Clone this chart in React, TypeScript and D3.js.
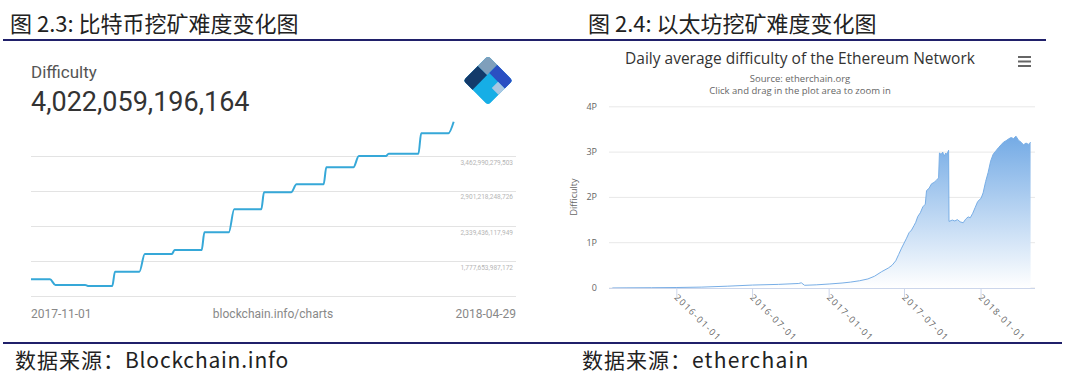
import React from "react";
import * as d3 from "d3";

// ---------- Bitcoin (left) ----------
const btcDates = [
  "2017-11-01", "2017-11-08", "2017-11-10", "2017-11-21", "2017-11-22",
  "2017-12-01", "2017-12-02", "2017-12-11", "2017-12-13", "2017-12-23",
  "2017-12-24", "2018-01-03", "2018-01-04", "2018-01-13", "2018-01-15",
  "2018-01-25", "2018-01-26", "2018-02-05", "2018-02-07", "2018-02-17",
  "2018-02-18", "2018-02-28", "2018-03-02", "2018-03-12", "2018-03-13",
  "2018-03-24", "2018-03-25", "2018-04-04", "2018-04-06",
];
// difficulty in trillions
const btcValues = [
  1.492, 1.492, 1.401, 1.401, 1.385,
  1.385, 1.614, 1.614, 1.898, 1.898,
  1.962, 1.962, 2.246, 2.246, 2.616,
  2.616, 2.888, 2.888, 3.017, 3.017,
  3.29, 3.29, 3.471, 3.471, 3.508,
  3.508, 3.835, 3.835, 4.022,
];
const btcGridValues = [1.21589, 1.77765, 2.33944, 2.90122, 3.46299];
const btcGridLabels = ["", "1,777,653,987,172", "2,339,436,117,949", "2,901,218,248,726", "3,462,990,279,503"];
const btcAxisStart = "2017-11-01";
const btcAxisEnd = "2018-04-29";
const btcSourceLabel = "blockchain.info/charts";
const btcHeaderLabel = "Difficulty";
const btcHeaderValue = "4,022,059,196,164";

// ---------- Ethereum (right) ----------
const ethDates = [
  "2015-07-30", "2015-09-01", "2015-11-01", "2016-01-01", "2016-03-01",
  "2016-05-01", "2016-07-01", "2016-09-01", "2016-10-20", "2016-10-26",
  "2016-11-03", "2016-12-01", "2017-01-01", "2017-02-01", "2017-02-21",
  "2017-03-15", "2017-04-04", "2017-04-20", "2017-05-07", "2017-05-23",
  "2017-06-01", "2017-06-10", "2017-06-17", "2017-06-24", "2017-06-30",
  "2017-07-06", "2017-07-12", "2017-07-18", "2017-07-24", "2017-07-28",
  "2017-08-02", "2017-08-08", "2017-08-14", "2017-08-20", "2017-08-23",
  "2017-08-29", "2017-09-04", "2017-09-10", "2017-09-16", "2017-09-21",
  "2017-09-23", "2017-09-27", "2017-10-01", "2017-10-04", "2017-10-08",
  "2017-10-11", "2017-10-15", "2017-10-16", "2017-10-24", "2017-10-30",
  "2017-11-05", "2017-11-12", "2017-11-19", "2017-11-25", "2017-12-01",
  "2017-12-06", "2017-12-12", "2017-12-18", "2017-12-24", "2018-01-01",
  "2018-01-06", "2018-01-12", "2018-01-18", "2018-01-24", "2018-01-30",
  "2018-02-05", "2018-02-12", "2018-02-18", "2018-02-24", "2018-03-02",
  "2018-03-08", "2018-03-14", "2018-03-20", "2018-03-26", "2018-04-01",
  "2018-04-07", "2018-04-13", "2018-04-19", "2018-04-25", "2018-04-30",
];
// difficulty in P
const ethValues = [
  0, 0.003, 0.006, 0.011, 0.02,
  0.04, 0.065, 0.08, 0.1, 0.115,
  0.06, 0.07, 0.088, 0.11, 0.13,
  0.16, 0.2, 0.26, 0.36, 0.44,
  0.5, 0.6, 0.74, 0.88, 0.99,
  1.1, 1.22, 1.28, 1.38, 1.45,
  1.58, 1.66, 1.79, 1.85, 2.15,
  2.2, 2.3, 2.33, 2.38, 2.43,
  2.98, 2.95, 3.0, 2.9, 2.98,
  2.95, 3.04, 1.47, 1.5, 1.48,
  1.51, 1.46, 1.44, 1.52, 1.57,
  1.55, 1.65, 1.78, 1.91, 1.98,
  2.1, 2.35, 2.55, 2.8, 2.95,
  3.02, 3.1, 3.16, 3.22, 3.25,
  3.29, 3.32, 3.3, 3.35, 3.26,
  3.22, 3.16, 3.2, 3.17, 3.22,
];
const ethYTicks = [0, 1, 2, 3, 4];
const ethYLabels = ["0", "1P", "2P", "3P", "4P"];
const ethXTicks = ["2016-01-01", "2016-07-01", "2017-01-01", "2017-07-01", "2018-01-01"];
const ethTitle = "Daily average difficulty of the Ethereum Network";
const ethSubtitle1 = "Source: etherchain.org";
const ethSubtitle2 = "Click and drag in the plot area to zoom in";
const ethYAxisTitle = "Difficulty";

const fig1Title = "图 2.3: 比特币挖矿难度变化图";
const fig2Title = "图 2.4: 以太坊挖矿难度变化图";
const sourcePrefix = "数据来源：";
const fig1Source = "Blockchain.info";
const fig2Source = "etherchain";

const parse = d3.timeParse("%Y-%m-%d");

export default function App() {
  // BTC scales
  const bx = d3.scaleTime().domain([parse(btcAxisStart)!, parse(btcAxisEnd)!]).range([31, 516]);
  const by = d3.scaleLinear().domain([btcGridValues[0], btcGridValues[4]]).range([296.5, 156.5]);
  const btcData = btcDates.map((d, i) => ({ date: parse(d)!, v: btcValues[i] }));
  const btcLine = d3.line<{ date: Date; v: number }>()
    .x((d) => bx(d.date))
    .y((d) => by(d.v))
    .curve(d3.curveMonotoneX)(btcData) || "";

  // ETH scales
  const ex = d3.scaleTime().domain([parse("2015-07-22")!, parse("2018-05-01")!]).range([609, 1031]);
  const ey = d3.scaleLinear().domain([0, 4]).range([288, 106.8]);
  const ethData = ethDates.map((d, i) => ({ date: parse(d)!, v: ethValues[i] }));
  const ethArea = d3.area<{ date: Date; v: number }>()
    .x((d) => ex(d.date))
    .y0(ey(0))
    .y1((d) => ey(d.v))(ethData) || "";
  const ethLine = d3.line<{ date: Date; v: number }>()
    .x((d) => ex(d.date))
    .y((d) => ey(d.v))(ethData) || "";

  const cjk = "'Noto Sans CJK SC', 'Noto Sans', sans-serif";
  const hc = "'Open Sans', 'DejaVu Sans', sans-serif";
  const rob = "Roboto, 'Noto Sans', sans-serif";

  const s = 17.7;
  const logoPieces = [
    { u0: -1, u1: 1, v0: -1, v1: 1, c: "#16aee6" },
    { u0: -1, u1: -0.25, v0: -0.18, v1: 1, c: "#133a6a" },
    { u0: -1, u1: -0.25, v0: -1, v1: -0.18, c: "#7f9fbb" },
    { u0: -0.25, u1: 1, v0: -1, v1: -0.35, c: "#2b4fc2" },
    { u0: 0.45, u1: 1, v0: -0.35, v1: 0.15, c: "#a9c7e2" },
  ];

  return (
    <svg
      width={1080}
      height={377}
      viewBox="0 0 1080 377"
      style={{ position: "absolute", left: 0, top: 0, background: "#fff" }}
    >
      <rect x={0} y={0} width={1080} height={377} fill="#fff" />
      <defs>
        <linearGradient id="ethGrad" gradientUnits="userSpaceOnUse" x1={0} y1={130} x2={0} y2={288}>
          <stop offset="0" stopColor="#6ea7e4" />
          <stop offset="1" stopColor="#ffffff" />
        </linearGradient>
        <clipPath id="logoClip">
          <rect x={-s} y={-s} width={2 * s} height={2 * s} rx={4} />
        </clipPath>
      </defs>

      {/* figure titles and rules */}
      <text x={10} y={32} fontFamily={cjk} fontSize={22} fill="#222">{fig1Title}</text>
      <text x={588} y={32} fontFamily={cjk} fontSize={22} fill="#222">{fig2Title}</text>
      <line x1={3} x2={1046} y1={40} y2={40} stroke="#20206a" strokeWidth={2} />
      <line x1={3} x2={1062} y1={343} y2={343} stroke="#20206a" strokeWidth={2} />
      <text x={15} y={368} fontFamily={cjk} fontSize={21} fill="#222">
        <tspan letterSpacing={1}>{sourcePrefix}</tspan>
        <tspan letterSpacing={0.8}>{fig1Source}</tspan>
      </text>
      <text x={582} y={368} fontFamily={cjk} fontSize={21} fill="#222">
        <tspan letterSpacing={1}>{sourcePrefix}</tspan>
        <tspan letterSpacing={1.2}>{fig2Source}</tspan>
      </text>

      {/* ---------- BTC chart ---------- */}
      <text x={31} y={78} fontFamily={rob} fontSize={17} fill="#555">{btcHeaderLabel}</text>
      <text x={31} y={111} fontFamily={rob} fontSize={27} fill="#333">{btcHeaderValue}</text>
      <g transform="translate(488,80.5) rotate(45)" clipPath="url(#logoClip)">
        {logoPieces.map((p, i) => (
          <rect key={i} x={p.u0 * s} y={p.v0 * s} width={(p.u1 - p.u0) * s} height={(p.v1 - p.v0) * s} fill={p.c} />
        ))}
      </g>
      {btcGridValues.map((g, i) => (
        <g key={i}>
          <line x1={31} x2={516} y1={by(g)} y2={by(g)} stroke="#e3e3e3" strokeWidth={1} />
          {btcGridLabels[i] && (
            <text x={513} y={by(g) + 8} textAnchor="end" fontFamily={rob} fontSize={6.5} fill="#b5b5b5">
              {btcGridLabels[i]}
            </text>
          )}
        </g>
      ))}
      <path d={btcLine} fill="none" stroke="#36a8d8" strokeWidth={2} />
      <text x={31} y={318} fontFamily={rob} fontSize={12} fill="#888">{btcAxisStart}</text>
      <text x={273} y={318} textAnchor="middle" fontFamily={rob} fontSize={12} fill="#888">{btcSourceLabel}</text>
      <text x={516} y={318} textAnchor="end" fontFamily={rob} fontSize={12} fill="#888">{btcAxisEnd}</text>

      {/* ---------- ETH chart ---------- */}
      <text x={800} y={64} textAnchor="middle" fontFamily={hc} fontSize={15.5} fill="#333">{ethTitle}</text>
      <text x={800} y={82} textAnchor="middle" fontFamily={hc} fontSize={9.5} fill="#666">{ethSubtitle1}</text>
      <text x={800} y={93.5} textAnchor="middle" fontFamily={hc} fontSize={9.5} fill="#666">{ethSubtitle2}</text>
      {[57, 61.5, 66].map((y, i) => (
        <line key={i} x1={1018} x2={1031} y1={y} y2={y} stroke="#666" strokeWidth={2} />
      ))}
      {ethYTicks.map((t, i) => (
        <g key={i}>
          <line x1={609} x2={1035} y1={ey(t)} y2={ey(t)} stroke="#e8e8e8" strokeWidth={1} />
          <text x={597} y={ey(t) + 3} textAnchor="end" fontFamily={hc} fontSize={9} fill="#666">{ethYLabels[i]}</text>
        </g>
      ))}
      <text
        transform={`translate(577,197) rotate(-90)`}
        textAnchor="middle"
        fontFamily={hc}
        fontSize={9}
        fill="#666"
      >
        {ethYAxisTitle}
      </text>
      <path d={ethArea} fill="url(#ethGrad)" />
      <path d={ethLine} fill="none" stroke="#78aee6" strokeWidth={1} />
      <line x1={609} x2={1035} y1={288.5} y2={288.5} stroke="#ccd6eb" strokeWidth={1} />
      {ethXTicks.map((t, i) => {
        const x = ex(parse(t)!);
        return (
          <g key={i}>
            <line x1={x} x2={x} y1={288.5} y2={297} stroke="#ccd6eb" strokeWidth={1} />
            <text
              transform={`translate(${x - 3},${298}) rotate(45)`}
              fontFamily={hc}
              fontSize={9}
              letterSpacing={1.5}
              fill="#666"
            >
              {t}
            </text>
          </g>
        );
      })}
    </svg>
  );
}
